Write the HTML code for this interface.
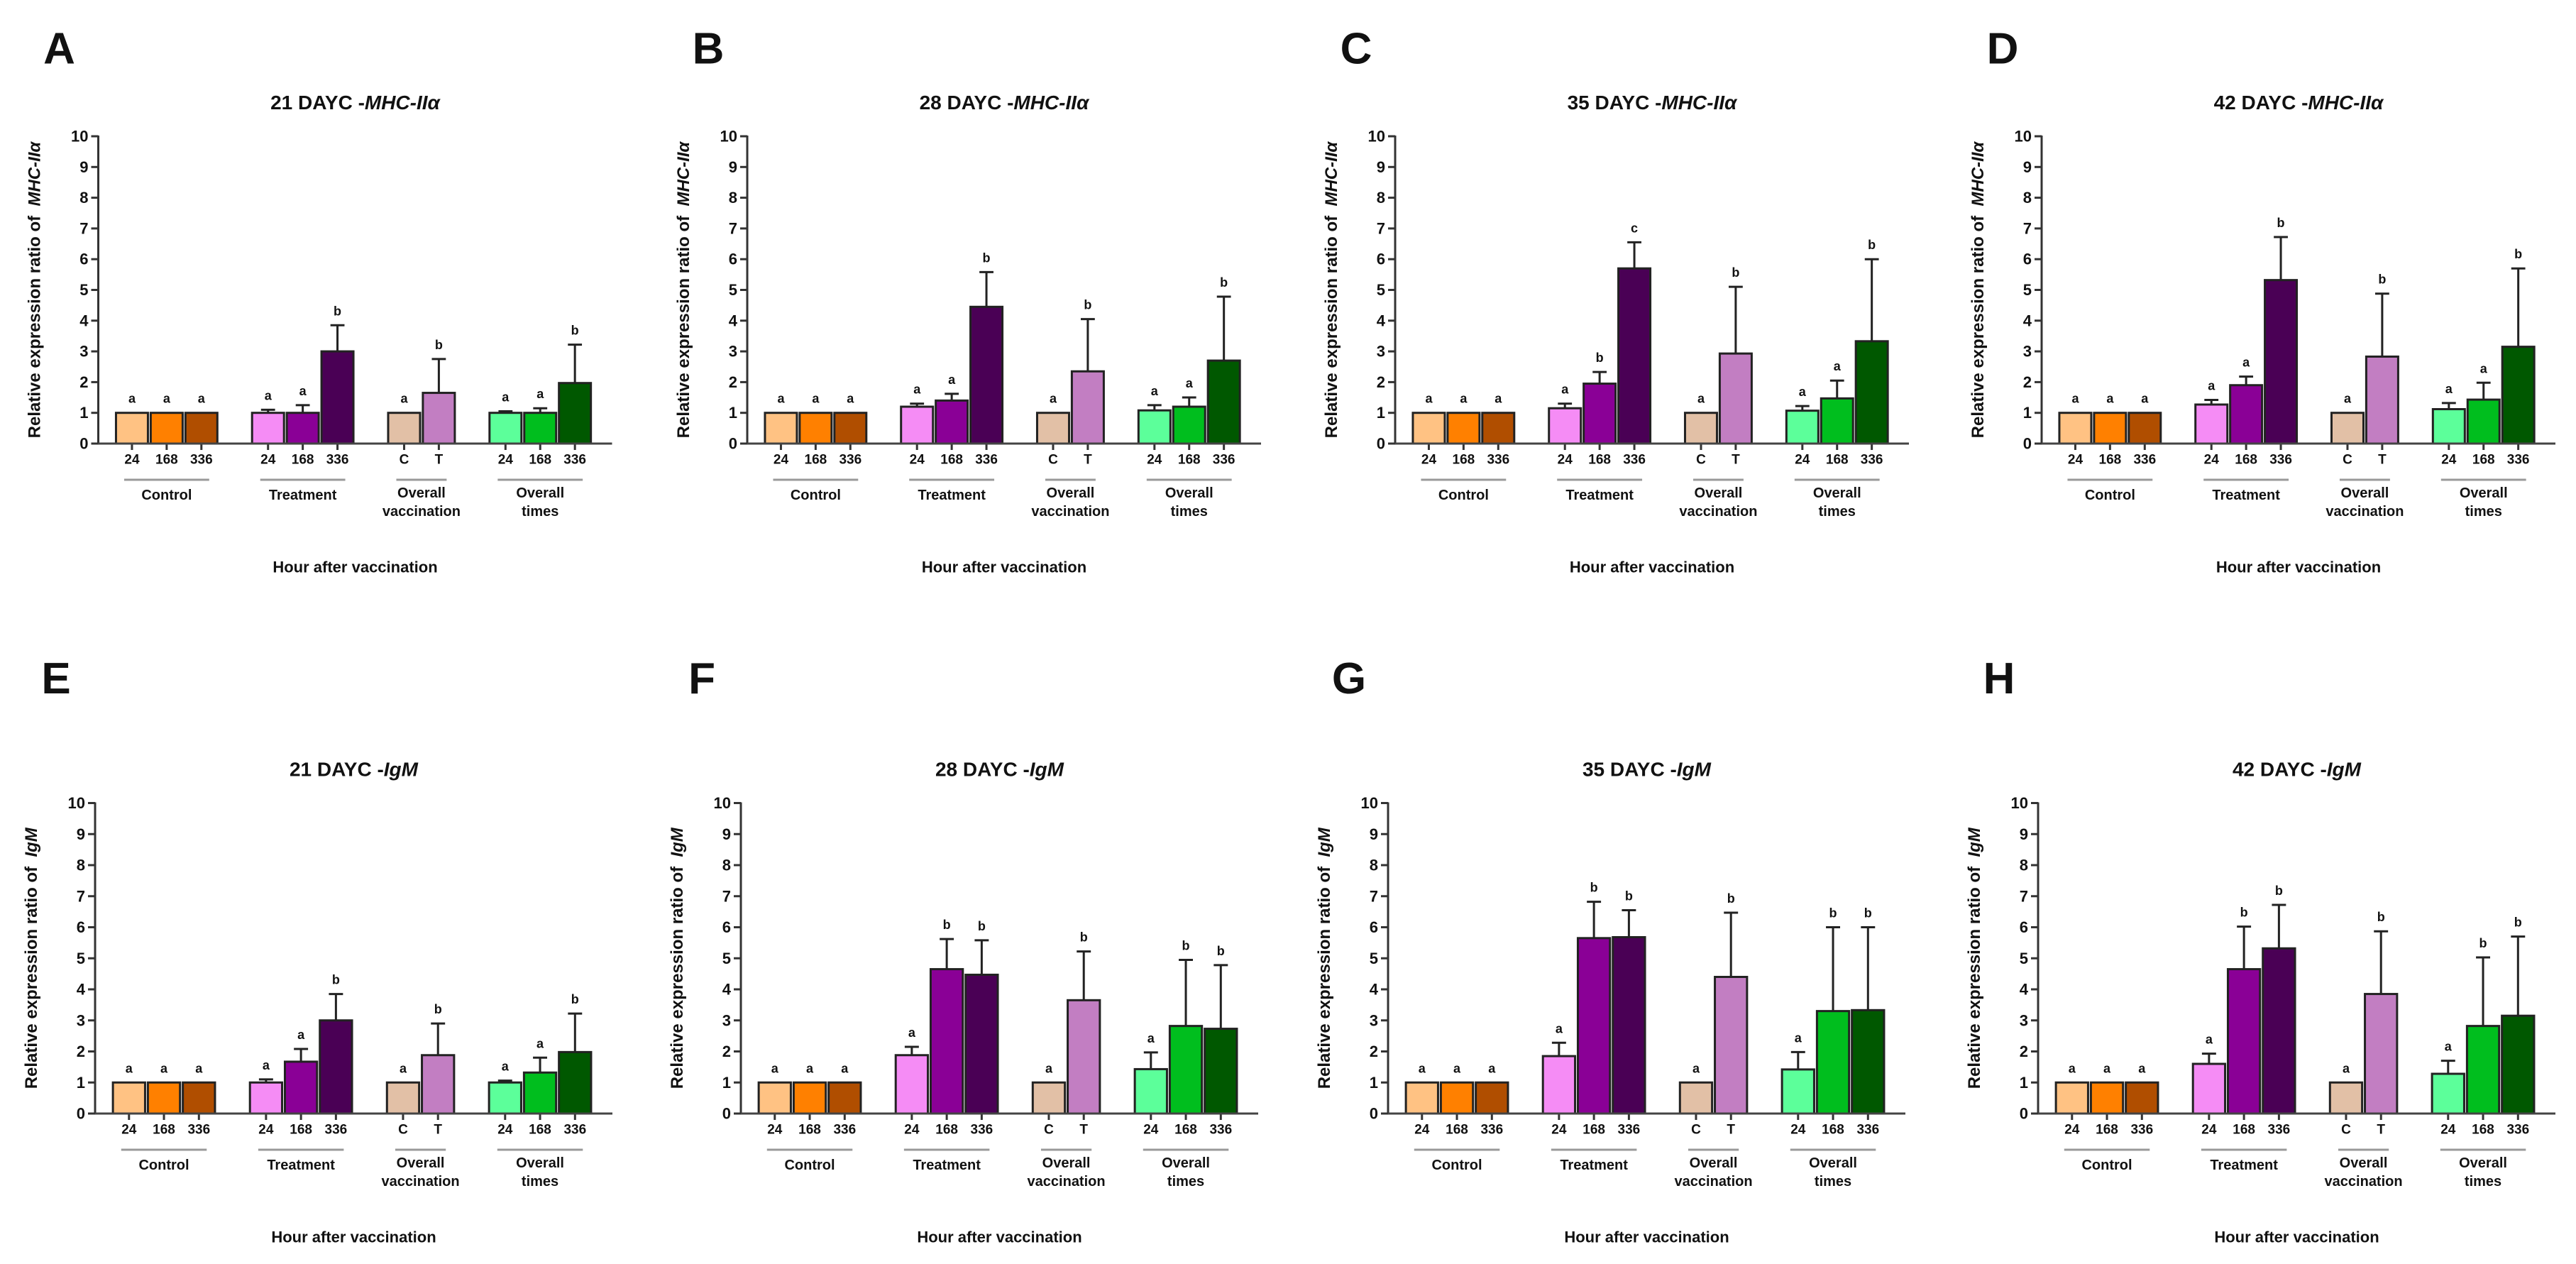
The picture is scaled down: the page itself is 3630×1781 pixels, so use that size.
<!DOCTYPE html>
<html><head><meta charset="utf-8"><style>
html,body{margin:0;padding:0;background:#fff}
svg{display:block}
text{font-family:"Liberation Sans",Arial,sans-serif;font-weight:bold;fill:#111}
</style></head><body>
<svg id="fig" width="3630" height="1781" viewBox="0 0 3630 1781" xmlns="http://www.w3.org/2000/svg"></svg>
<script>
// ---- data ----
const panelLetters = ['A','B','C','D','E','F','G','H'];
const panelDays = ['21','28','35','42','21','28','35','42'];
const panelGenes = ['MHC-IIα','MHC-IIα','MHC-IIα','MHC-IIα','IgM','IgM','IgM','IgM'];
const tickLabels = ['24','168','336','24','168','336','C','T','24','168','336'];
const groupNames = [['Control'],['Treatment'],['Overall','vaccination'],['Overall','times']];
const yTicks = [0,1,2,3,4,5,6,7,8,9,10];
const valuesA = [1,1,1, 1.0,1.0,3.0, 1,1.65, 1.0,1.0,1.97];
const errTopA = [1,1,1, 1.1,1.25,3.85, 1,2.75, 1.05,1.15,3.22];
const lettersA = ['a','a','a','a','a','b','a','b','a','a','b'];
const valuesB = [1,1,1, 1.2,1.4,4.45, 1,2.35, 1.08,1.2,2.7];
const errTopB = [1,1,1, 1.3,1.62,5.58, 1,4.05, 1.25,1.5,4.78];
const lettersB = ['a','a','a','a','a','b','a','b','a','a','b'];
const valuesC = [1,1,1, 1.15,1.95,5.7, 1,2.93, 1.07,1.47,3.33];
const errTopC = [1,1,1, 1.3,2.33,6.55, 1,5.1, 1.22,2.05,6.0];
const lettersC = ['a','a','a','a','b','c','a','b','a','a','b'];
const valuesD = [1,1,1, 1.27,1.9,5.32, 1,2.83, 1.12,1.43,3.15];
const errTopD = [1,1,1, 1.42,2.18,6.72, 1,4.88, 1.32,1.98,5.7];
const lettersD = ['a','a','a','a','a','b','a','b','a','a','b'];
const valuesE = [1,1,1, 1.0,1.67,3.0, 1,1.88, 1.0,1.32,1.98];
const errTopE = [1,1,1, 1.1,2.08,3.85, 1,2.9, 1.06,1.8,3.22];
const lettersE = ['a','a','a','a','a','b','a','b','a','a','b'];
const valuesF = [1,1,1, 1.88,4.65,4.47, 1,3.65, 1.43,2.82,2.73];
const errTopF = [1,1,1, 2.15,5.62,5.58, 1,5.22, 1.97,4.95,4.78];
const lettersF = ['a','a','a','a','b','b','a','b','a','b','b'];
const valuesG = [1,1,1, 1.85,5.65,5.68, 1,4.4, 1.42,3.3,3.33];
const errTopG = [1,1,1, 2.28,6.82,6.55, 1,6.47, 1.98,6.0,6.0];
const lettersG = ['a','a','a','a','b','b','a','b','a','b','b'];
const valuesH = [1,1,1, 1.6,4.65,5.32, 1,3.85, 1.28,2.82,3.15];
const errTopH = [1,1,1, 1.93,6.02,6.72, 1,5.87, 1.7,5.03,5.7];
const lettersH = ['a','a','a','a','b','b','a','b','a','b','b'];
const allValues = [valuesA,valuesB,valuesC,valuesD,valuesE,valuesF,valuesG,valuesH];
const allErr = [errTopA,errTopB,errTopC,errTopD,errTopE,errTopF,errTopG,errTopH];
const allLetters = [lettersA,lettersB,lettersC,lettersD,lettersE,lettersF,lettersG,lettersH];

// ---- layout / style (not data) ----
const barColors = ['#FFC283','#FF8000','#B04E00','#F58CF5','#8A0096','#4A0055','#E2C0A6','#C27EC2','#5CFF9A','#00BE1E','#005800'];
const slotPos = [0,1,2,3.92,4.92,5.92,7.84,8.84,10.76,11.76,12.76];
const groupIdx = [[0,2],[3,5],[6,7],[8,10]];
const layouts = [
 {ax:138.5,y0:625,yTop:192,len:724},{ax:1053,y0:625,yTop:192,len:724},
 {ax:1966,y0:625,yTop:192,len:724},{ax:2877,y0:625,yTop:192,len:724},
 {ax:134,y0:1569,yTop:1131.5,len:729},{ax:1044,y0:1569,yTop:1131.5,len:729},
 {ax:1956,y0:1569,yTop:1131.5,len:729},{ax:2872,y0:1569,yTop:1131.5,len:729}];
const NS='http://www.w3.org/2000/svg';
const svg=document.getElementById('fig');
function mk(tag,attrs,parent){const e=document.createElementNS(NS,tag);for(const k in attrs)e.setAttribute(k,attrs[k]);(parent||svg).appendChild(e);return e;}

for(let p=0;p<8;p++){
  const L=layouts[p];
  const g=mk('g',{});
  
  
  const slot=L.len/14.8;
  const xOf=i=>L.ax+(0.97+slotPos[i])*slot;
  const yOf=v=>L.y0-(v/10)*(L.y0-L.yTop);
  const bw=slot*0.92;
  const pl=mk('text',{x:L.ax-55,y:L.yTop-(p<4?123:175),'font-size':62,'text-anchor':'middle','dominant-baseline':'central'},g);
  pl.textContent=panelLetters[p];
  
  
  const t=mk('text',{x:L.ax+L.len/2,y:L.yTop-48,'font-size':28,'text-anchor':'middle','dominant-baseline':'central'},g);
  
  
  const t1=mk('tspan',{},t);t1.textContent=panelDays[p]+' DAYC -';
  const t2=mk('tspan',{'font-style':'italic'},t);t2.textContent=panelGenes[p];
  const yc=(L.y0+L.yTop)/2;
  const yt=mk('text',{x:0,y:0,'font-size':24,'text-anchor':'middle','dominant-baseline':'central',transform:`translate(${L.ax-90},${yc}) rotate(-90)`},g);
  
  
  const y1=mk('tspan',{},yt);y1.textContent='Relative expression ratio of\u00a0\u00a0';
  const y2=mk('tspan',{'font-style':'italic'},yt);y2.textContent=panelGenes[p];
  const ya=mk('line',{x1:L.ax,y1:L.yTop-1,x2:L.ax,y2:L.y0,stroke:'#333','stroke-width':3},g);
  
  
  yTicks.forEach(v=>{
    const tk=mk('line',{x1:L.ax-10,y1:yOf(v),x2:L.ax,y2:yOf(v),stroke:'#333','stroke-width':3},g);
    
    
    const tl=mk('text',{x:L.ax-14,y:yOf(v),'font-size':22,'text-anchor':'end','dominant-baseline':'central'},g);
    tl.textContent=String(v);
    
    
  });
  const vals=allValues[p],errs=allErr[p],lets=allLetters[p];
  for(let i=0;i<vals.length;i++){
    const x=xOf(i);
    const tk=mk('line',{x1:x,y1:L.y0,x2:x,y2:L.y0+9,stroke:'#333','stroke-width':3},g);
    
    
    const top=yOf(vals[i]);
    if(errs[i]>vals[i]+0.001){
      const el=mk('path',{d:`M${x},${top} V${yOf(errs[i])} M${x-bw*0.22},${yOf(errs[i])} H${x+bw*0.22}`,stroke:'#222','stroke-width':3,fill:'none'},g);
      
      
    }
    const r=mk('rect',{x:x-bw/2,y:top,width:bw,height:L.y0-top,fill:barColors[i],stroke:'#222','stroke-width':3},g);
    
    
    const lt=mk('text',{x:x,y:yOf(Math.max(errs[i],vals[i]))-20,'font-size':18,'text-anchor':'middle','dominant-baseline':'central'},g);
    lt.textContent=lets[i];
    
    
    const xl=mk('text',{x:x,y:L.y0+23,'font-size':19,'text-anchor':'middle','dominant-baseline':'central'},g);
    xl.textContent=tickLabels[i];
    
    
  }
  const xa=mk('line',{x1:L.ax,y1:L.y0,x2:L.ax+L.len,y2:L.y0,stroke:'#444','stroke-width':3},g);
  
  
  groupIdx.forEach((gi,k)=>{
    const a=xOf(gi[0])-11,b=xOf(gi[1])+11,c=(a+b)/2;
    const gl=mk('line',{x1:a,y1:L.y0+51,x2:b,y2:L.y0+51,stroke:'#999','stroke-width':3},g);
    
    
    const names=groupNames[k];
    names.forEach((nm,j)=>{
      const yy=names.length===1?L.y0+73:L.y0+70+j*26;
      const tx=mk('text',{x:c,y:yy,'font-size':20,'text-anchor':'middle','dominant-baseline':'central'},g);
      tx.textContent=nm;
      
      
    });
  });
  const xt=mk('text',{x:L.ax+L.len/2,y:L.y0+174,'font-size':22,'text-anchor':'middle','dominant-baseline':'central'},g);
  xt.textContent='Hour after vaccination';
  
  
}
</script>
</body></html>
